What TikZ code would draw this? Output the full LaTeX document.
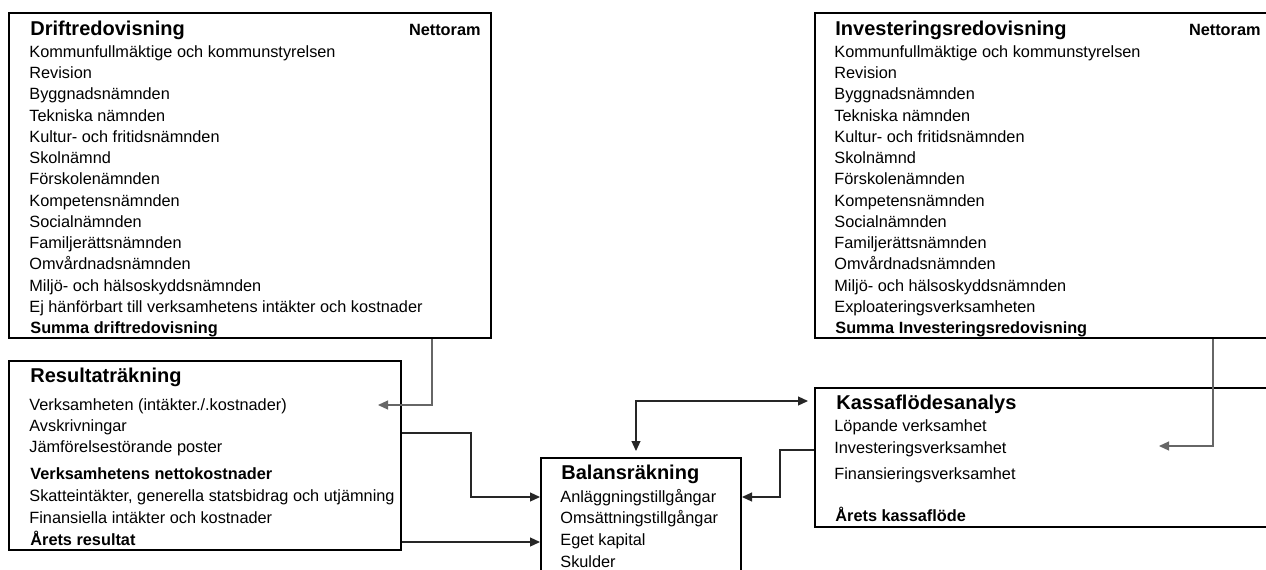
\documentclass[tikz,border=0pt]{standalone}
\usepackage{fontspec}
\setmainfont{Liberation Sans}
\usetikzlibrary{arrows.meta,fit}

\tikzset{
  box/.style={draw,line width=1pt,inner sep=0pt},
  title/.style={anchor=base west,inner sep=0pt,font=\fontsize{10pt}{12pt}\selectfont\bfseries},
  item/.style={anchor=base west,inner sep=0pt,font=\fontsize{8.15pt}{10pt}\selectfont},
  itemb/.style={item,font=\fontsize{8.15pt}{10pt}\selectfont\bfseries},
  conn/.style={line width=0.6pt,draw=black!85,-{Triangle[length=5pt,width=4.5pt]}},
  gconn/.style={conn,draw=black!60},
}

\begin{document}
\begin{tikzpicture}[x=0.5pt,y=-0.5pt]
  \useasboundingbox (0,0) rectangle (1266,569);
  \clip (0,0) rectangle (1266,569);
  % boxes
  \node[box,fit={(9,13) (491,338)}] (drift) {};
  \node[box,fit={(815,13) (1290,338)}] (inv) {};
  \node[box,fit={(9,361) (401,550)}] (res) {};
  \node[box,fit={(815,388) (1290,527)}] (kas) {};
  \node[box,fit={(541,458) (741,600)}] (bal) {};
  % Driftredovisning
  \node[title] (dtitle) at (30,35) {Driftredovisning};
  \node[itemb,anchor=base east] (dnetto) at (481,35) {Nettoram};
  \node[item] (d1) at (29,57.3) {Kommunfullmäktige och kommunstyrelsen};
  \node[item] (d2) at (29,78.5) {Revision};
  \node[item] (d3) at (29,99.8) {Byggnadsnämnden};
  \node[item] (d4) at (29,121) {Tekniska nämnden};
  \node[item] (d5) at (29,142.3) {Kultur- och fritidsnämnden};
  \node[item] (d6) at (29,163.5) {Skolnämnd};
  \node[item] (d7) at (29,184.8) {Förskolenämnden};
  \node[item] (d8) at (29,206) {Kompetensnämnden};
  \node[item] (d9) at (29,227.3) {Socialnämnden};
  \node[item] (d10) at (29,248.5) {Familjerättsnämnden};
  \node[item] (d11) at (29,269.8) {Omvårdnadsnämnden};
  \node[item] (d12) at (29,291) {Miljö- och hälsoskyddsnämnden};
  \node[item] (d13) at (29,312.3) {Ej hänförbart till verksamhetens intäkter och kostnader};
  \node[itemb] (d14) at (30,333.5) {Summa driftredovisning};
  % Investeringsredovisning
  \node[title] (ititle) at (835,35) {Investeringsredovisning};
  \node[itemb,anchor=base east] (inetto) at (1261,35) {Nettoram};
  \node[item] (i1) at (834,57.3) {Kommunfullmäktige och kommunstyrelsen};
  \node[item] (i2) at (834,78.5) {Revision};
  \node[item] (i3) at (834,99.8) {Byggnadsnämnden};
  \node[item] (i4) at (834,121) {Tekniska nämnden};
  \node[item] (i5) at (834,142.3) {Kultur- och fritidsnämnden};
  \node[item] (i6) at (834,163.5) {Skolnämnd};
  \node[item] (i7) at (834,184.8) {Förskolenämnden};
  \node[item] (i8) at (834,206) {Kompetensnämnden};
  \node[item] (i9) at (834,227.3) {Socialnämnden};
  \node[item] (i10) at (834,248.5) {Familjerättsnämnden};
  \node[item] (i11) at (834,269.8) {Omvårdnadsnämnden};
  \node[item] (i12) at (834,291) {Miljö- och hälsoskyddsnämnden};
  \node[item] (i13) at (834,312.3) {Exploateringsverksamheten};
  \node[itemb] (i14) at (835,333.5) {Summa Investeringsredovisning};
  % Resultaträkning
  \node[title] (rtitle) at (30,382.5) {Resultaträkning};
  \node[item] (r1) at (29,410.7) {Verksamheten (intäkter./.kostnader)};
  \node[item] (r2) at (29,431.7) {Avskrivningar};
  \node[item] (r3) at (29,452.7) {Jämförelsestörande poster};
  \node[itemb] (r4) at (30,479.3) {Verksamhetens nettokostnader};
  \node[item] (r5) at (29,501.7) {Skatteintäkter, generella statsbidrag och utjämning};
  \node[item] (r6) at (29,523.3) {Finansiella intäkter och kostnader};
  \node[itemb] (r7) at (30,545) {Årets resultat};
  % Kassaflödesanalys
  \node[title] (ktitle) at (836,409.3) {Kassaflödesanalys};
  \node[item] (k1) at (834,431.7) {Löpande verksamhet};
  \node[item] (k2) at (834,453.3) {Investeringsverksamhet};
  \node[item] (k3) at (834,479) {Finansieringsverksamhet};
  \node[itemb] (k4) at (835,521.7) {Årets kassaflöde};
  % Balansräkning
  \node[title] (btitle) at (561,479) {Balansräkning};
  \node[item] (b1) at (560,502.5) {Anläggningstillgångar};
  \node[item] (b2) at (560,523.5) {Omsättningstillgångar};
  \node[item] (b3) at (560,545) {Eget kapital};
  \node[item] (b4) at (560,567) {Skulder};
  % connectors
  \coordinate (rtip) at (378,405);
  \coordinate (ktip) at (1159,446);
  \draw[gconn] (drift.south -| 432,0) |- (rtip);
  \draw[gconn] (inv.south -| 1213,0) |- (ktip);
  \draw[conn] (res.east |- 0,433) -| (471,497) -- (bal.west |- 0,497);
  \draw[conn] (res.east |- 0,542) -- (bal.west |- 0,542);
  \draw[conn,{Triangle[length=5pt,width=4.5pt]}-{Triangle[length=5pt,width=4.5pt]},shorten <=3pt,shorten >=3pt] (bal.north -| 636,0) |- (kas.west |- 0,401);
  \draw[conn] (kas.west |- 0,450) -| (780,497) -- (bal.east |- 0,497);
\end{tikzpicture}
\end{document}
